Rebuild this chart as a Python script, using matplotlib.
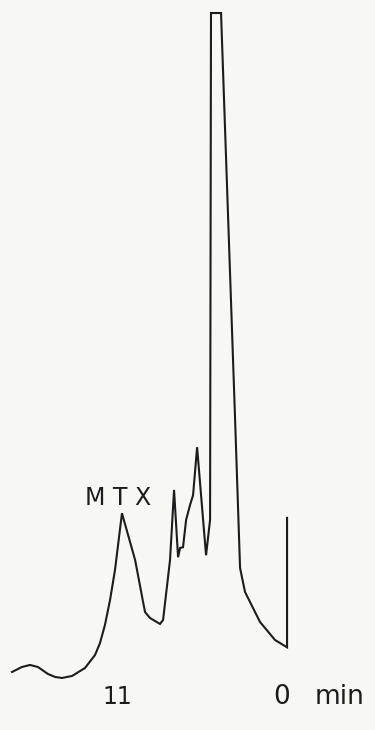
import matplotlib
matplotlib.use('Agg')
import matplotlib.pyplot as plt

# retention time (min) and detector response (arbitrary units)
time_min = [17.79, 17.15, 16.63, 16.12, 15.47, 15.0, 14.56, 13.91, 13.07, 12.42,
            12.10, 11.78, 11.45, 11.13, 10.68, 9.83, 9.19, 8.87, 8.22, 8.02,
            7.57, 7.31, 7.05, 6.92, 6.73, 6.53, 6.28, 6.08, 5.82, 5.24,
            4.98, 4.92, 4.27, 3.36, 3.04, 2.72, 1.75, 0.78, 0.0, 0.0]
response = [1.2, 1.95, 2.25, 1.95, 0.9, 0.45, 0.3, 0.6, 1.8, 3.75,
            5.55, 8.25, 12.0, 16.5, 25.0, 18.0, 10.2, 9.3, 8.4, 9.0,
            18.0, 28.5, 18.4, 19.8, 19.9, 24.0, 26.2, 27.7, 34.9, 18.7,
            24.0, 100.0, 100.0, 39.0, 16.8, 13.2, 8.7, 6.0, 4.9, 24.3]

peak_label = 'M T X'
peak_time = 10.9
axis_labels = ['11', '0', 'min']
label_times = [11.0, 0.36, -1.81]

ink = '#1c1c1c'
paper = '#f7f7f5'

fig = plt.figure(figsize=(3.75, 7.30), dpi=100)
fig.patch.set_facecolor(paper)
ax = fig.add_axes([0, 0, 1, 1])
ax.set_facecolor(paper)

ax.plot(time_min, response, color=ink, lw=1.5, solid_joinstyle='miter')

ax.text(peak_time, 26.3, peak_label, ha='center', va='baseline',
        fontsize=17, color=ink)
ax.text(label_times[0], -2.5, axis_labels[0], ha='center', va='center',
        fontsize=17, color=ink)
ax.text(label_times[1], -2.5, axis_labels[1], ha='center', va='center',
        fontsize=19, color=ink)
ax.text(label_times[2], -2.5, axis_labels[2], ha='left', va='center',
        fontsize=19, color=ink)

# time runs right to left, like the recorder chart
ax.set_xlim(18.57, -5.69)
ax.set_ylim(-7.5, 101.95)
ax.axis('off')

fig.savefig('out.png', dpi=100, facecolor=fig.get_facecolor())
